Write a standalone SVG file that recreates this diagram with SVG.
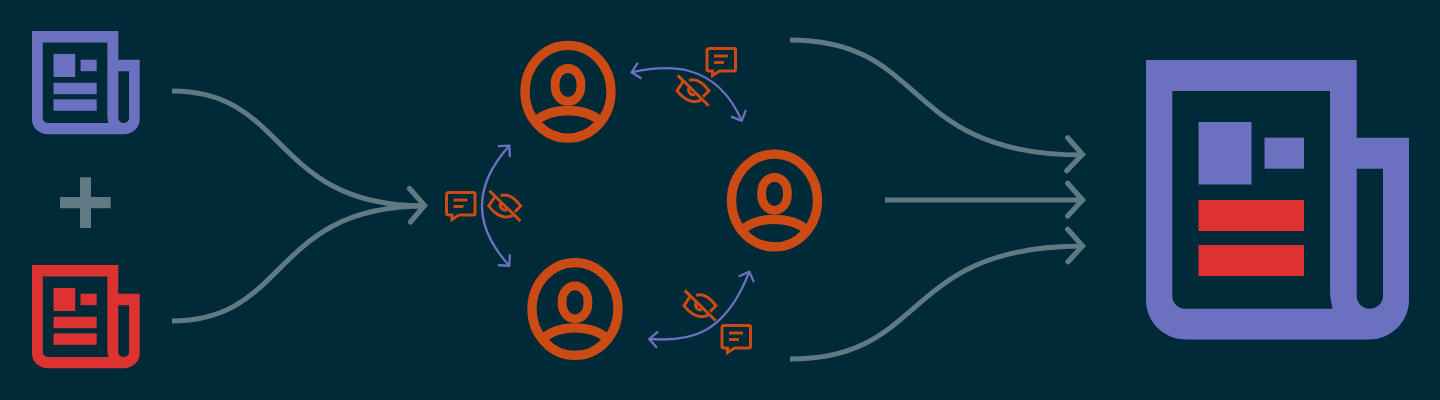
<svg xmlns="http://www.w3.org/2000/svg" xmlns:xlink="http://www.w3.org/1999/xlink" width="1440" height="400" viewBox="0 0 1440 400">
<style>
.grey{fill:none;stroke:#5f7a82;stroke-width:5}
.chev{fill:none;stroke:#5f7a82;stroke-width:5.2;stroke-linecap:round}
.thin{fill:none;stroke:#6b70c0;stroke-width:2.3}
.ln{fill:none;stroke:#cc4b14;stroke-width:3}
.ring{fill:none;stroke:#cc4b14;stroke-width:9.3}
.head{fill:none;stroke:#cc4b14;stroke-width:8.8}
</style>
<defs>
<marker id="headThin" markerUnits="userSpaceOnUse" markerWidth="30" markerHeight="30" refX="15" refY="15" orient="auto-start-reverse" viewBox="0 0 30 30"><path d="M7.5,7.5 L15,15 L7.5,22.5" fill="none" stroke="#6b70c0" stroke-width="2.3" stroke-linecap="round"/></marker>
<g id="paper">
<path fill-rule="evenodd" d="M1146,60H1356.7V137.7H1409V300C1409,322 1391,339.5 1369,339.5H1186C1164,339.5 1146,322 1146,300ZM1172.3,91V296C1172.3,303 1178,308.7 1185,308.7H1332.5C1331,302 1330,296 1330,290V91ZM1356.7,168.7V296C1356.7,303 1362.5,308.7 1369.8,308.7C1377,308.7 1383,303 1383,296V168.7Z"/>
<rect x="1198.5" y="122" width="53" height="62.5"/>
<rect x="1264.5" y="137.7" width="39.5" height="31"/>
</g>
<g id="lines">
<rect x="1198.5" y="200" width="105.5" height="31"/>
<rect x="1198.5" y="245" width="105.5" height="31"/>
</g>
<g id="person">
<ellipse class="ring" cx="0" cy="0" rx="43" ry="46.4"/>
<rect class="head" x="-12.9" y="-23.2" width="25.8" height="33" rx="12.9" ry="15"/>
<path class="ring" d="M-33,30C-24,22-13,18.8 0,18.8S24,22 33,30"/>
</g>
<g id="bubble">
<path class="ln" d="M3.5,1.5H28.5A1.5,1.5 0 0 1 30,3V22.5A1.5,1.5 0 0 1 28.5,24H14L7,28.5V24H3.5A2,2 0 0 1 1.5,22V3.5A2,2 0 0 1 3.5,1.5Z"/>
<path class="ln" d="M8.5,9H22.5M8.5,15.5H18.5"/>
</g>
<g id="eye">
<path class="ln" d="M-15.3,-15.3L15.7,15"/>
<path class="ln" d="M-4,-10.5C5,-13 11,-6 16,0L10,6"/>
<path class="ln" d="M-10,-9L-16,0C-11,7-4,11 1,11C3,11 6,10.5 8,9.5"/>
<path class="ln" d="M-3.5,-3.5C-6,0-3,5 2,4"/>
</g>
</defs>
<rect width="1440" height="400" fill="#012a38"/>
<g id="connectors">
<path class="grey" d="M172,91C290,91 270,206 425,206"/>
<path class="grey" d="M172,321C290,321 270,206 425,206"/>
<path class="chev" d="M409.5,188.5L424.5,205.5L410.5,222"/>
<path class="grey" d="M790,40C930,40 900,155 1083,155"/>
<path class="grey" d="M885,200H1083"/>
<path class="grey" d="M790,359C930,359 900,246 1083,246"/>
<path class="chev" d="M1067.7,137.7L1082.5,154.5L1066.7,170.7"/>
<path class="chev" d="M1067.7,183.3L1082.5,200L1067.7,216"/>
<path class="chev" d="M1067.7,229.3L1082.5,246L1068,261.7"/>
<path class="thin" marker-start="url(#headThin)" marker-end="url(#headThin)" d="M509.3,145.7Q454.7,206 509.3,265.7"/>
<path class="thin" marker-start="url(#headThin)" marker-end="url(#headThin)" d="M631.7,72.3C665,65 715,60 741.7,120.7"/>
<path class="thin" marker-start="url(#headThin)" marker-end="url(#headThin)" d="M649.3,339C690,342 725,335 749.3,271.7"/>
</g>
<g id="source-a"><use xlink:href="#paper" href="#paper" fill="#6b70c0" transform="translate(32,31) scale(.4095,.3696) translate(-1146,-60)"/><use href="#lines" xlink:href="#lines" fill="#6b70c0" transform="translate(32,31) scale(.4095,.3696) translate(-1146,-60)"/></g>
<g id="plus"><path fill="#5f7a82" d="M80,177.3H91V197H110.7V208.3H91V228H80V208.3H60V197H80Z"/></g>
<g id="source-b"><use href="#paper" xlink:href="#paper" fill="#dd3232" transform="translate(32,265) scale(.4095,.3696) translate(-1146,-60)"/><use href="#lines" xlink:href="#lines" fill="#dd3232" transform="translate(32,265) scale(.4095,.3696) translate(-1146,-60)"/></g>
<g id="person-1"><use href="#person" xlink:href="#person" x="568" y="91.7"/></g>
<g id="person-2"><use href="#person" xlink:href="#person" x="774.5" y="200.5"/></g>
<g id="person-3"><use href="#person" xlink:href="#person" x="575" y="309"/></g>
<g id="chat-1"><use href="#bubble" xlink:href="#bubble" x="445" y="191"/></g>
<g id="chat-2"><use href="#bubble" xlink:href="#bubble" x="705.5" y="47"/></g>
<g id="chat-3"><use href="#bubble" xlink:href="#bubble" x="720.5" y="324"/></g>
<g id="eye-1"><use href="#eye" xlink:href="#eye" x="504.7" y="206"/></g>
<g id="eye-2"><use href="#eye" xlink:href="#eye" x="693" y="90.7"/></g>
<g id="eye-3"><use href="#eye" xlink:href="#eye" x="700" y="305.7"/></g>
<g id="result"><use href="#paper" xlink:href="#paper" fill="#6b70c0"/><use href="#lines" xlink:href="#lines" fill="#dd3232"/></g>
</svg>
